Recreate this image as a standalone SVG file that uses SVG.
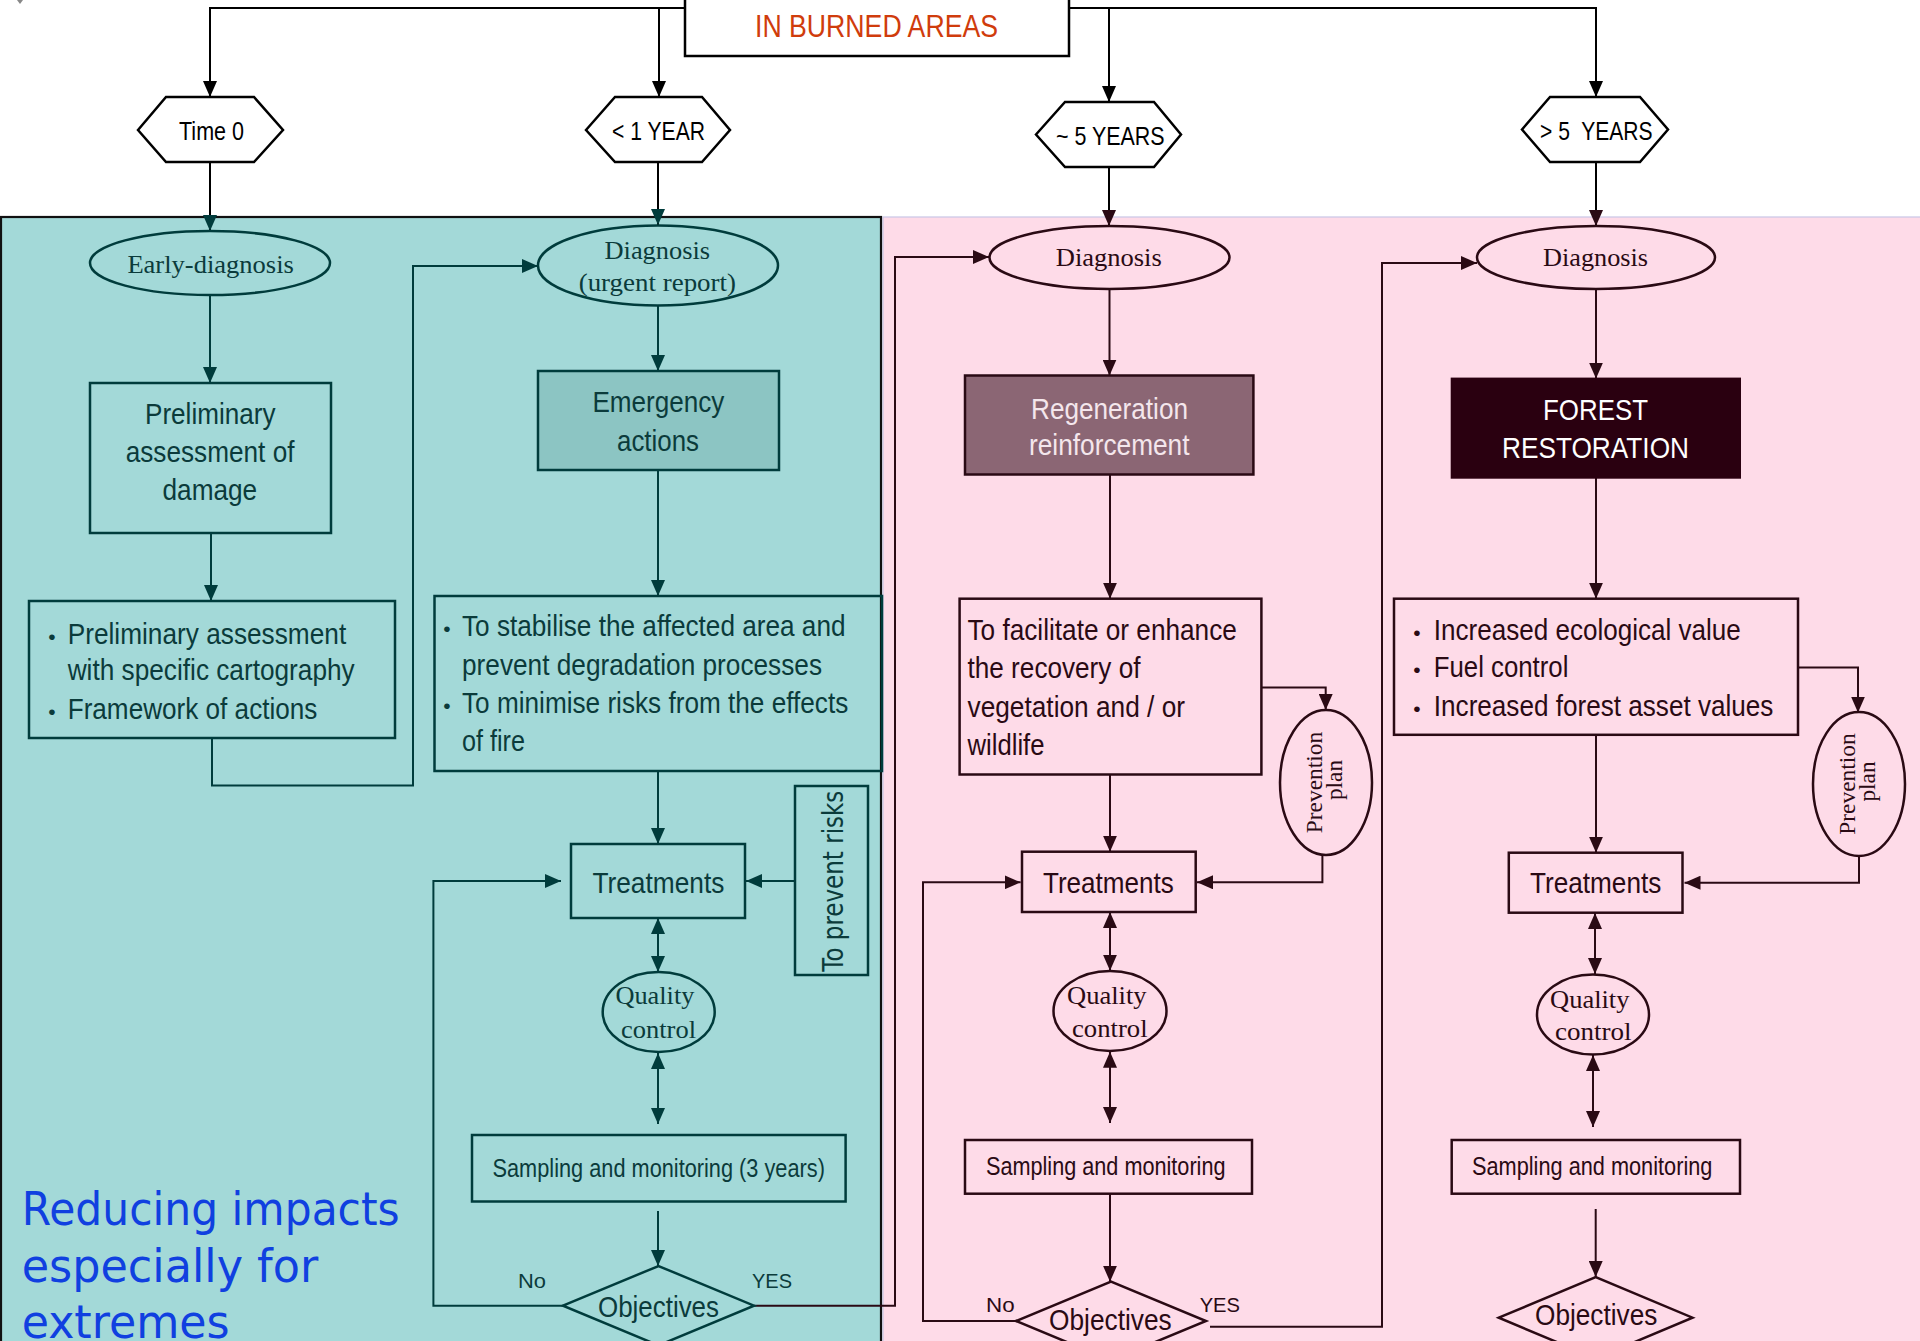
<svg xmlns="http://www.w3.org/2000/svg" width="1920" height="1341" viewBox="0 0 1920 1341">
<style>
.n{font-family:"Liberation Sans Narrow","Liberation Sans",Arial,sans-serif}
.s{font-family:"Liberation Serif","Times New Roman",serif}
.tt{fill:#0b3b3b}
.pt{fill:#2a0a14}
.kt{fill:#000}
.tb{fill:none;stroke:#003c3c;stroke-width:2.5}
.pb{fill:none;stroke:#2a0a14;stroke-width:2.5}
.kb{fill:#fff;stroke:#000;stroke-width:2.5}
.tl{fill:none;stroke:#003c3c;stroke-width:2}
.pl{fill:none;stroke:#2a0a14;stroke-width:2}
.kl{fill:none;stroke:#000;stroke-width:2}
.f30{font-size:30px}
.f29{font-size:29px}
.f26{font-size:26px}
.f25{font-size:25px}
.f21{font-size:21px}
</style>
<defs>
<marker id="at" markerWidth="16" markerHeight="14" refX="16" refY="7" orient="auto-start-reverse" markerUnits="userSpaceOnUse"><path d="M0,0 L16,7 L0,14 z" fill="#003c3c"/></marker>
<marker id="ap" markerWidth="16" markerHeight="14" refX="16" refY="7" orient="auto-start-reverse" markerUnits="userSpaceOnUse"><path d="M0,0 L16,7 L0,14 z" fill="#2a0a14"/></marker>
<marker id="ak" markerWidth="16" markerHeight="14" refX="16" refY="7" orient="auto-start-reverse" markerUnits="userSpaceOnUse"><path d="M0,0 L16,7 L0,14 z" fill="#000"/></marker>
</defs>
<rect width="1920" height="1341" fill="#fff"/>
<polygon points="17,0 23,0 20,4" fill="#888"/>
<!-- panels -->
<g id="panels">
<rect x="883" y="217" width="1045" height="1140" fill="#fedbe8" stroke="#c9c6e6" stroke-width="1.2"/>
<rect x="1" y="217" width="880" height="1140" fill="#a3d9d8" stroke="#111" stroke-width="2.2"/>
</g>
<!-- top title -->
<g id="title">
<rect x="685" y="-5" width="384" height="61" class="kb"/>
<text x="755" y="37.3" font-size="31" textLength="243" lengthAdjust="spacingAndGlyphs" class="n" fill="#d03c0c">IN BURNED AREAS</text>
</g>
<!-- hexagons -->
<g id="h-time0">
<polygon points="138,130 166,97 254,97 283,130 254,162 166,162" class="kb" stroke-width="2"/>
<text x="179" y="140" class="n f25 kt" textLength="65" lengthAdjust="spacingAndGlyphs">Time 0</text>
</g>
<g id="h-1year">
<polygon points="586,130 615,97 702,97 730,130 702,162 615,162" class="kb" stroke-width="2"/>
<text x="612" y="140" class="n f25 kt" textLength="93" lengthAdjust="spacingAndGlyphs">&lt; 1 YEAR</text>
</g>
<g id="h-5years">
<polygon points="1036,134.5 1065,102 1154,102 1181,134.5 1154,167 1065,167" class="kb" stroke-width="2"/>
<text x="1056" y="145" class="n f25 kt" textLength="108.6" lengthAdjust="spacingAndGlyphs">~ 5 YEARS</text>
</g>
<g id="h-gt5years">
<polygon points="1522,129.5 1550,97 1640,97 1668,129.5 1640,162 1550,162" class="kb" stroke-width="2"/>
<text x="1540" y="140" class="n f25 kt" textLength="112.6" lengthAdjust="spacingAndGlyphs" xml:space="preserve">&gt; 5  YEARS</text>
</g>
<!-- connectors -->
<g id="connectors">
<path d="M685,8 H210 V97" class="kl" marker-end="url(#ak)"/>
<path d="M659,8 V97" class="kl" marker-end="url(#ak)"/>
<path d="M1069,8 H1596 V97" class="kl" marker-end="url(#ak)"/>
<path d="M1109,8 V102" class="kl" marker-end="url(#ak)"/>
<path d="M210,162 V231" class="kl" marker-end="url(#at)"/>
<path d="M658,162 V225" class="kl" marker-end="url(#at)"/>
<path d="M1109,167 V226" class="kl" marker-end="url(#ap)"/>
<path d="M1596,162 V226" class="kl" marker-end="url(#ap)"/>
<!-- teal -->
<path d="M210,295 V383" class="tl" marker-end="url(#at)"/>
<path d="M211,533 V601" class="tl" marker-end="url(#at)"/>
<path d="M212,738 V785.5 H413 V266 H538" class="tl" marker-end="url(#at)"/>
<path d="M658,306 V371" class="tl" marker-end="url(#at)"/>
<path d="M658,470 V596" class="tl" marker-end="url(#at)"/>
<path d="M658,771 V844" class="tl" marker-end="url(#at)"/>
<path d="M795,881 H746" class="tl" marker-end="url(#at)"/>
<path d="M658,918 V972" class="tl" marker-start="url(#at)" marker-end="url(#at)"/>
<path d="M658,1053 V1124" class="tl" marker-start="url(#at)" marker-end="url(#at)"/>
<path d="M658,1211 V1266" class="tl" marker-end="url(#at)"/>
<path d="M563,1305.7 H433.4 V881 H561" class="tl" marker-end="url(#at)"/>
<path d="M754,1305.7 H895 V257 H989" class="pl" marker-end="url(#ap)"/>
<!-- col3 -->
<path d="M1109.5,289 V375.5" class="pl" marker-end="url(#ap)"/>
<path d="M1110,474.5 V598.7" class="pl" marker-end="url(#ap)"/>
<path d="M1261.4,687.5 H1325.7 V710" class="pl" marker-end="url(#ap)"/>
<path d="M1110,774.5 V851.7" class="pl" marker-end="url(#ap)"/>
<path d="M1322.4,855 V882.3 H1197" class="pl" marker-end="url(#ap)"/>
<path d="M1110,912 V970.7" class="pl" marker-start="url(#ap)" marker-end="url(#ap)"/>
<path d="M1110,1051.7 V1123" class="pl" marker-start="url(#ap)" marker-end="url(#ap)"/>
<path d="M1110,1193.7 V1281.7" class="pl" marker-end="url(#ap)"/>
<path d="M1016,1321 H923 V882.3 H1020.6" class="pl" marker-end="url(#ap)"/>
<path d="M1210,1326.7 H1382 V263 H1477" class="pl" marker-end="url(#ap)"/>
<!-- col4 -->
<path d="M1596,289 V378.6" class="pl" marker-end="url(#ap)"/>
<path d="M1596,477.7 V598.7" class="pl" marker-end="url(#ap)"/>
<path d="M1798,667.4 H1858 V712.5" class="pl" marker-end="url(#ap)"/>
<path d="M1596,734.8 V852.7" class="pl" marker-end="url(#ap)"/>
<path d="M1859,856 V882.7 H1684.5" class="pl" marker-end="url(#ap)"/>
<path d="M1595,913 V974" class="pl" marker-start="url(#ap)" marker-end="url(#ap)"/>
<path d="M1593,1055 V1127" class="pl" marker-start="url(#ap)" marker-end="url(#ap)"/>
<path d="M1595.7,1209 V1277" class="pl" marker-end="url(#ap)"/>
</g>
<!-- teal nodes -->
<g id="early-diagnosis">
<ellipse cx="210" cy="263" rx="120" ry="32" class="tb"/>
<text x="127.4" y="272.7" class="s f26 tt" textLength="166.5" lengthAdjust="spacingAndGlyphs">Early-diagnosis</text>
</g>
<g id="diagnosis-urgent">
<ellipse cx="658" cy="265.5" rx="120" ry="40" class="tb"/>
<text x="604.5" y="259.3" class="s f26 tt" textLength="105.6" lengthAdjust="spacingAndGlyphs">Diagnosis</text>
<text x="578.7" y="290.7" class="s f26 tt" textLength="157.3" lengthAdjust="spacingAndGlyphs">(urgent report)</text>
</g>
<g id="preliminary-damage">
<rect x="90" y="383" width="241" height="150" class="tb"/>
<text x="145" y="423.9" class="n f29 tt" textLength="130.5" lengthAdjust="spacingAndGlyphs">Preliminary</text>
<text x="125.7" y="462" class="n f29 tt" textLength="168.8" lengthAdjust="spacingAndGlyphs">assessment of</text>
<text x="162.5" y="500.4" class="n f29 tt" textLength="94.7" lengthAdjust="spacingAndGlyphs">damage</text>
</g>
<g id="preliminary-cartography">
<rect x="29" y="601" width="366" height="137" class="tb"/>
<text x="52" y="644" class="n f21 tt" text-anchor="middle">•</text>
<text x="67.7" y="644" class="n f29 tt" textLength="278.5" lengthAdjust="spacingAndGlyphs">Preliminary assessment</text>
<text x="67.7" y="680.3" class="n f29 tt" textLength="287" lengthAdjust="spacingAndGlyphs">with specific cartography</text>
<text x="52" y="718.6" class="n f21 tt" text-anchor="middle">•</text>
<text x="67.7" y="718.6" class="n f29 tt" textLength="249.7" lengthAdjust="spacingAndGlyphs">Framework of actions</text>
</g>
<g id="emergency-actions">
<rect x="538" y="371" width="241" height="99" fill="#8cc5c3" stroke="#003c3c" stroke-width="2.5"/>
<text x="592.4" y="412.4" class="n f30 tt" textLength="132" lengthAdjust="spacingAndGlyphs">Emergency</text>
<text x="617" y="450.7" class="n f30 tt" textLength="82" lengthAdjust="spacingAndGlyphs">actions</text>
</g>
<g id="stabilise">
<rect x="434.5" y="596" width="447.5" height="175" class="tb"/>
<text x="447" y="636.3" class="n f21 tt" text-anchor="middle">•</text>
<text x="462" y="636.3" class="n f29 tt" textLength="383.5" lengthAdjust="spacingAndGlyphs">To stabilise the affected area and</text>
<text x="462" y="674.6" class="n f29 tt" textLength="360" lengthAdjust="spacingAndGlyphs">prevent degradation processes</text>
<text x="447" y="712.8" class="n f21 tt" text-anchor="middle">•</text>
<text x="462" y="712.8" class="n f29 tt" textLength="386.3" lengthAdjust="spacingAndGlyphs">To minimise risks from the effects</text>
<text x="462" y="751.1" class="n f29 tt" textLength="63" lengthAdjust="spacingAndGlyphs">of fire</text>
</g>
<g id="treatments-1">
<rect x="571" y="844" width="174" height="74" class="tb"/>
<text x="592.4" y="892.7" class="n f30 tt" textLength="132" lengthAdjust="spacingAndGlyphs">Treatments</text>
</g>
<g id="prevent-risks">
<rect x="795" y="786" width="73" height="189" class="tb"/>
<text transform="translate(843.3,971.7) rotate(-90)" font-family="DejaVu Sans, sans-serif" font-size="29" class="tt" textLength="181" lengthAdjust="spacingAndGlyphs">To prevent risks</text>
</g>
<g id="quality-1">
<ellipse cx="658.7" cy="1012" rx="56" ry="40" class="tb"/>
<text x="615.4" y="1004" class="s f26 tt" textLength="79" lengthAdjust="spacingAndGlyphs">Quality</text>
<text x="621" y="1037.6" class="s f26 tt" textLength="75" lengthAdjust="spacingAndGlyphs">control</text>
</g>
<g id="sampling-1">
<rect x="472" y="1135" width="373.6" height="66.5" class="tb"/>
<text x="492.5" y="1177" class="n f26 tt" textLength="332.4" lengthAdjust="spacingAndGlyphs">Sampling and monitoring (3 years)</text>
</g>
<g id="objectives-1">
<polygon points="563,1305.7 658.5,1266 754,1305.7 658.5,1345.4" class="tb"/>
<text x="598" y="1317" class="n f30 tt" textLength="121" lengthAdjust="spacingAndGlyphs">Objectives</text>
<text x="518" y="1288.3" class="n f21 tt" textLength="28" lengthAdjust="spacingAndGlyphs">No</text>
<text x="752" y="1288.3" class="n f21 tt" textLength="40" lengthAdjust="spacingAndGlyphs">YES</text>
</g>
<g id="reducing-label">
<text font-family="DejaVu Sans, sans-serif" font-size="46" fill="#1040e0">
<tspan x="21.7" y="1225" textLength="378" lengthAdjust="spacingAndGlyphs">Reducing impacts</tspan>
<tspan x="21.7" y="1281.7" textLength="296.6" lengthAdjust="spacingAndGlyphs">especially for</tspan>
<tspan x="21.7" y="1338" textLength="208" lengthAdjust="spacingAndGlyphs">extremes</tspan>
</text>
</g>
<!-- pink col 3 -->
<g id="diagnosis-3">
<ellipse cx="1109.5" cy="257.5" rx="120" ry="31.5" class="pb"/>
<text x="1055.8" y="266" class="s f26 pt" textLength="106" lengthAdjust="spacingAndGlyphs">Diagnosis</text>
</g>
<g id="regeneration">
<rect x="965" y="375.5" width="288.4" height="99" fill="#8b6674" stroke="#2a0a14" stroke-width="2.5"/>
<text x="1031" y="418.75" class="n f29" fill="#f4e6ec" textLength="157" lengthAdjust="spacingAndGlyphs">Regeneration</text>
<text x="1029" y="455.4" class="n f29" fill="#f4e6ec" textLength="160.5" lengthAdjust="spacingAndGlyphs">reinforcement</text>
</g>
<g id="facilitate">
<rect x="959.6" y="598.7" width="301.8" height="175.8" class="pb"/>
<text x="967.5" y="639.7" class="n f29 pt" textLength="269.3" lengthAdjust="spacingAndGlyphs">To facilitate or enhance</text>
<text x="967.5" y="677.7" class="n f29 pt" textLength="173" lengthAdjust="spacingAndGlyphs">the recovery of</text>
<text x="967.5" y="716.5" class="n f29 pt" textLength="217.5" lengthAdjust="spacingAndGlyphs">vegetation and / or</text>
<text x="967.5" y="755" class="n f29 pt" textLength="77" lengthAdjust="spacingAndGlyphs">wildlife</text>
</g>
<g id="prevention-3">
<ellipse cx="1326" cy="782.5" rx="46" ry="72.5" class="pb"/>
<text transform="translate(1321.7,833.3) rotate(-90)" class="s pt" font-size="24" textLength="101.6" lengthAdjust="spacingAndGlyphs">Prevention</text>
<text transform="translate(1341.7,800) rotate(-90)" class="s pt" font-size="24" textLength="40" lengthAdjust="spacingAndGlyphs">plan</text>
</g>
<g id="treatments-3">
<rect x="1022" y="851.7" width="173.7" height="60.3" class="pb"/>
<text x="1043" y="892.7" class="n f30 pt" textLength="130.7" lengthAdjust="spacingAndGlyphs">Treatments</text>
</g>
<g id="quality-3">
<ellipse cx="1110" cy="1011" rx="56.5" ry="40" class="pb"/>
<text x="1067" y="1004" class="s f26 pt" textLength="79.6" lengthAdjust="spacingAndGlyphs">Quality</text>
<text x="1072" y="1036.7" class="s f26 pt" textLength="75.6" lengthAdjust="spacingAndGlyphs">control</text>
</g>
<g id="sampling-3">
<rect x="965" y="1140" width="287" height="53.7" class="pb"/>
<text x="986" y="1175" class="n f26 pt" textLength="239.5" lengthAdjust="spacingAndGlyphs">Sampling and monitoring</text>
</g>
<g id="objectives-3">
<polygon points="1016,1321 1111,1281.7 1206,1321 1111,1360.3" class="pb"/>
<text x="1049" y="1330" class="n f30 pt" textLength="122.7" lengthAdjust="spacingAndGlyphs">Objectives</text>
<text x="986" y="1311.7" class="n f21 pt" textLength="28.6" lengthAdjust="spacingAndGlyphs">No</text>
<text x="1199.7" y="1311.7" class="n f21 pt" textLength="40.3" lengthAdjust="spacingAndGlyphs">YES</text>
</g>
<!-- pink col 4 -->
<g id="diagnosis-4">
<ellipse cx="1596" cy="257.5" rx="119" ry="31.5" class="pb"/>
<text x="1543" y="266" class="s f26 pt" textLength="105" lengthAdjust="spacingAndGlyphs">Diagnosis</text>
</g>
<g id="forest-restoration">
<rect x="1451.7" y="378.6" width="288.3" height="99.1" fill="#2a0010" stroke="#2a0010" stroke-width="2"/>
<text x="1543" y="419.6" class="n f29" fill="#fff" textLength="105" lengthAdjust="spacingAndGlyphs">FOREST</text>
<text x="1502" y="458" class="n f29" fill="#fff" textLength="187" lengthAdjust="spacingAndGlyphs">RESTORATION</text>
</g>
<g id="ecological">
<rect x="1394" y="598.7" width="404" height="136.1" class="pb"/>
<text x="1417" y="639.7" class="n f21 pt" text-anchor="middle">•</text>
<text x="1433.8" y="639.7" class="n f29 pt" textLength="307" lengthAdjust="spacingAndGlyphs">Increased ecological value</text>
<text x="1417" y="676.8" class="n f21 pt" text-anchor="middle">•</text>
<text x="1433.8" y="676.8" class="n f29 pt" textLength="134.6" lengthAdjust="spacingAndGlyphs">Fuel control</text>
<text x="1417" y="715.6" class="n f21 pt" text-anchor="middle">•</text>
<text x="1433.8" y="715.6" class="n f29 pt" textLength="339.6" lengthAdjust="spacingAndGlyphs">Increased forest asset values</text>
</g>
<g id="prevention-4">
<ellipse cx="1859" cy="784" rx="46" ry="72" class="pb"/>
<text transform="translate(1854.7,834.8) rotate(-90)" class="s pt" font-size="24" textLength="101.6" lengthAdjust="spacingAndGlyphs">Prevention</text>
<text transform="translate(1874.7,801.5) rotate(-90)" class="s pt" font-size="24" textLength="40" lengthAdjust="spacingAndGlyphs">plan</text>
</g>
<g id="treatments-4">
<rect x="1508.8" y="852.7" width="173.7" height="60" class="pb"/>
<text x="1530" y="892.7" class="n f30 pt" textLength="131.3" lengthAdjust="spacingAndGlyphs">Treatments</text>
</g>
<g id="quality-4">
<ellipse cx="1593" cy="1014.5" rx="56" ry="40" class="pb"/>
<text x="1550" y="1008" class="s f26 pt" textLength="79.5" lengthAdjust="spacingAndGlyphs">Quality</text>
<text x="1555" y="1040" class="s f26 pt" textLength="76.5" lengthAdjust="spacingAndGlyphs">control</text>
</g>
<g id="sampling-4">
<rect x="1451.7" y="1140" width="288.3" height="53.7" class="pb"/>
<text x="1472" y="1175" class="n f26 pt" textLength="240.4" lengthAdjust="spacingAndGlyphs">Sampling and monitoring</text>
</g>
<g id="objectives-4">
<polygon points="1498.8,1317.7 1595.7,1277 1692.5,1317.7 1595.7,1358.4" class="pb"/>
<text x="1535" y="1325" class="n f30 pt" textLength="122.3" lengthAdjust="spacingAndGlyphs">Objectives</text>
</g>
</svg>
